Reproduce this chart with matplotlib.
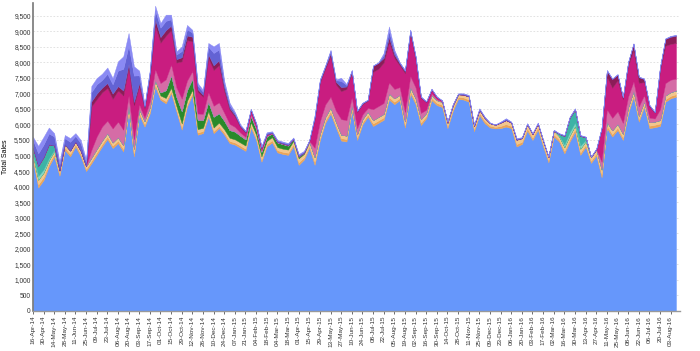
import numpy as np
import pandas as pd
import matplotlib
matplotlib.use('Agg')
import matplotlib.pyplot as plt
from matplotlib.ticker import FuncFormatter, MultipleLocator

# weekly periods, 16-Apr-14 .. 10-Aug-16
weeks = pd.date_range('2014-04-16', periods=122, freq='7D')

blue = [4850, 3970, 4210, 4650, 4970, 4350, 5180, 4970, 5290, 4970,
        4500, 4750, 5020, 5290, 5530, 5240, 5400, 5130, 6420, 4970,
        6310, 5930, 6360, 7220, 6790, 6680, 7010, 6420, 5830, 6580,
        6950, 5670, 5720, 6260, 5720, 5880, 5670, 5400, 5350, 5250,
        5150, 5900, 5500, 4800, 5300, 5420, 5100, 5050, 5020, 5300,
        4700, 4870, 5250, 4700, 5500, 6050, 6350, 5900, 5480, 5450,
        6450, 5500, 6000, 6250, 5950, 6050, 6150, 6800, 6650, 6780,
        5900, 7000, 6650, 5980, 6200, 6780, 6620, 6560, 5880, 6430,
        6820, 6800, 6730, 5780, 6300, 6040, 5900, 5870, 5880, 5930,
        5880, 5290, 5370, 5800, 5500, 5830, 5290, 4780, 5610, 5450,
        5070, 5450, 5770, 5020, 5280, 4760, 5000, 4300, 5880, 5610,
        5820, 5500, 6360, 6890, 6090, 6570, 5880, 5910, 5950, 6730,
        6840, 6890]

orange = [80, 100, 100, 90, 80, 80, 80, 80, 70, 80,
          70, 80, 80, 80, 80, 80, 80, 80, 80, 100,
          80, 80, 80, 80, 60, 70, 70, 70, 80, 70,
          70, 70, 70, 70, 70, 70, 70, 70, 70, 70,
          70, 70, 70, 70, 70, 70, 70, 70, 70, 70,
          80, 70, 70, 100, 80, 80, 80, 80, 80, 80,
          70, 80, 70, 70, 80, 80, 80, 80, 80, 70,
          80, 80, 80, 80, 70, 70, 70, 70, 70, 70,
          70, 70, 70, 70, 70, 70, 60, 50, 70, 80,
          70, 80, 70, 80, 70, 80, 70, 70, 70, 70,
          80, 80, 80, 80, 70, 70, 70, 100, 80, 80,
          80, 80, 80, 80, 80, 70, 80, 80, 80, 80,
          80, 80]

tan = [90, 150, 140, 110, 90, 90, 100, 110, 90, 100,
       90, 100, 110, 110, 110, 100, 110, 120, 120, 150,
       100, 100, 110, 120, 80, 100, 100, 100, 120, 110,
       100, 110, 100, 100, 110, 110, 100, 100, 100, 100,
       100, 100, 100, 100, 100, 100, 100, 100, 100, 100,
       130, 110, 110, 150, 120, 110, 110, 110, 110, 110,
       100, 100, 100, 90, 110, 110, 110, 120, 110, 100,
       120, 120, 110, 110, 100, 100, 90, 90, 90, 90,
       80, 90, 100, 100, 100, 100, 80, 70, 110, 130,
       110, 140, 120, 130, 120, 120, 110, 100, 120, 100,
       120, 120, 110, 120, 110, 120, 130, 150, 120, 120,
       120, 120, 110, 110, 110, 100, 110, 100, 110, 120,
       120, 120]

green = [0, 0, 0, 0, 0, 0, 0, 0, 0, 0,
         0, 0, 0, 0, 0, 0, 0, 0, 0, 0,
         0, 0, 0, 0, 100, 250, 400, 300, 400, 350,
         350, 300, 250, 300, 350, 300, 280, 250, 250, 220,
         200, 200, 180, 150, 150, 120, 150, 150, 130, 60,
         60, 40, 20, 0, 0, 0, 0, 0, 0, 0,
         0, 0, 0, 0, 0, 0, 0, 0, 0, 0,
         0, 0, 0, 0, 0, 0, 0, 0, 0, 0,
         0, 0, 0, 0, 0, 0, 0, 0, 0, 0,
         0, 0, 0, 0, 0, 0, 0, 0, 0, 0,
         0, 0, 0, 0, 0, 0, 0, 0, 0, 0,
         0, 0, 0, 0, 0, 0, 0, 0, 0, 0,
         0, 0]

light_teal = [50, 120, 100, 60, 40, 0, 0, 0, 0, 0,
              0, 0, 0, 0, 0, 0, 0, 0, 0, 0,
              0, 0, 0, 0, 0, 0, 0, 0, 0, 0,
              0, 0, 0, 0, 0, 0, 0, 0, 0, 0,
              0, 0, 0, 0, 0, 0, 0, 0, 0, 0,
              0, 0, 0, 0, 0, 0, 0, 0, 0, 0,
              0, 0, 0, 0, 0, 0, 0, 0, 0, 0,
              0, 0, 0, 0, 0, 0, 0, 0, 0, 0,
              0, 0, 0, 0, 0, 0, 0, 0, 0, 0,
              0, 0, 0, 0, 0, 0, 0, 0, 0, 20,
              80, 100, 100, 100, 40, 0, 0, 0, 0, 0,
              0, 0, 0, 0, 0, 0, 0, 0, 0, 0,
              0, 0]

teal = [180, 330, 400, 450, 150, 0, 0, 0, 0, 0,
        0, 0, 0, 0, 0, 0, 0, 0, 0, 0,
        0, 0, 0, 0, 0, 0, 0, 0, 0, 0,
        0, 0, 0, 0, 0, 0, 0, 0, 0, 0,
        0, 0, 0, 0, 0, 0, 0, 0, 0, 0,
        0, 0, 0, 0, 0, 0, 0, 0, 0, 0,
        0, 0, 0, 0, 0, 0, 0, 0, 0, 0,
        0, 0, 0, 0, 0, 0, 0, 0, 0, 0,
        0, 0, 0, 0, 0, 0, 0, 0, 0, 0,
        0, 0, 0, 0, 0, 0, 0, 0, 0, 60,
        280, 470, 430, 310, 90, 0, 0, 0, 0, 0,
        0, 0, 0, 0, 0, 0, 0, 0, 0, 0,
        0, 0]

pink = [0, 0, 0, 0, 0, 0, 0, 0, 0, 0,
        0, 250, 400, 450, 400, 450, 500, 500, 300, 300,
        150, 100, 200, 350, 300, 350, 350, 300, 400, 300,
        250, 200, 200, 300, 350, 350, 250, 200, 150, 100,
        80, 60, 50, 40, 20, 10, 10, 10, 10, 0,
        0, 0, 20, 300, 400, 400, 350, 350, 500, 500,
        250, 200, 150, 120, 350, 350, 350, 350, 300, 250,
        300, 350, 350, 200, 100, 50, 30, 20, 20, 20,
        0, 0, 0, 0, 0, 0, 0, 0, 0, 0,
        0, 0, 0, 0, 0, 0, 0, 0, 0, 0,
        0, 0, 0, 0, 0, 0, 0, 250, 400, 400,
        400, 350, 350, 300, 300, 200, 150, 100, 350, 400,
        400, 380]

magenta = [0, 0, 0, 0, 0, 0, 0, 0, 0, 0,
           0, 1400, 1200, 1100, 1050, 950, 1000, 1100, 900, 1100,
           600, 300, 800, 1400, 1300, 1400, 1100, 800, 1200, 1300,
           950, 700, 550, 1100, 1150, 1200, 700, 450, 330, 180,
           140, 120, 100, 80, 40, 10, 10, 10, 10, 0,
           0, 0, 10, 900, 1250, 1150, 1300, 850, 900, 1000,
           800, 520, 330, 230, 1200, 1200, 1300, 1300, 1000, 700,
           1250, 1350, 900, 480, 250, 120, 70, 20, 20, 20,
           0, 0, 0, 0, 0, 0, 0, 0, 0, 0,
           0, 0, 0, 0, 0, 0, 0, 0, 0, 0,
           0, 0, 0, 0, 0, 0, 0, 1050, 1050, 970,
           1000, 760, 1000, 1000, 760, 420, 350, 190, 1250, 1200,
           1150, 1150]

maroon = [0, 0, 0, 0, 0, 0, 0, 0, 0, 0,
          0, 160, 180, 150, 160, 170, 140, 160, 120, 100,
          90, 50, 100, 200, 180, 180, 150, 110, 130, 150,
          150, 80, 60, 120, 150, 150, 100, 60, 50, 30,
          20, 20, 10, 10, 0, 0, 0, 0, 0, 0,
          0, 0, 0, 50, 50, 60, 100, 80, 130, 80,
          50, 30, 30, 20, 190, 190, 150, 150, 100, 60,
          60, 100, 70, 30, 10, 10, 0, 0, 0, 0,
          0, 0, 0, 0, 0, 0, 0, 0, 0, 0,
          0, 0, 0, 0, 0, 0, 0, 0, 0, 0,
          0, 0, 0, 0, 0, 0, 0, 30, 200, 280,
          180, 60, 100, 210, 180, 100, 40, 10, 100, 220,
          230, 230]

slate = [250, 400, 400, 350, 280, 200, 200, 280, 180, 240,
         130, 300, 300, 250, 300, 300, 500, 700, 600, 850,
         250, 40, 60, 300, 300, 300, 200, 150, 200, 200,
         130, 120, 100, 250, 400, 350, 140, 100, 60, 30,
         25, 20, 30, 30, 50, 30, 40, 40, 40, 30,
         50, 40, 10, 50, 30, 30, 70, 50, 200, 50,
         20, 10, 10, 10, 10, 10, 100, 200, 100, 30,
         30, 30, 30, 10, 10, 10, 10, 10, 10, 10,
         20, 30, 30, 30, 30, 25, 10, 5, 20, 40,
         20, 30, 20, 20, 20, 20, 20, 10, 20, 10,
         20, 20, 20, 20, 10, 10, 20, 10, 10, 10,
         10, 10, 10, 10, 10, 10, 10, 10, 10, 10,
         20, 20]

periwinkle = [100, 240, 250, 190, 110, 80, 100, 120, 90, 110,
              70, 200, 200, 200, 200, 200, 300, 400, 400, 300,
              150, 30, 50, 150, 150, 200, 150, 100, 150, 140,
              90, 80, 60, 120, 210, 210, 90, 70, 40, 20,
              15, 10, 10, 20, 20, 20, 20, 20, 20, 20,
              30, 20, 10, 50, 20, 20, 40, 30, 100, 30,
              10, 10, 10, 10, 10, 10, 60, 150, 60, 10,
              10, 20, 10, 10, 10, 10, 10, 10, 10, 10,
              10, 10, 20, 20, 20, 15, 10, 5, 10, 20,
              10, 20, 10, 10, 10, 10, 10, 10, 10, 10,
              10, 10, 10, 10, 10, 10, 10, 10, 10, 10,
              10, 10, 10, 10, 10, 10, 10, 10, 10, 10,
              10, 10]

layers = [blue, orange, tan, green, light_teal, teal, pink, magenta,
          maroon, slate, periwinkle]
colors = ['#6697fb', '#eba457', '#f2c68c', '#2a8a2a', '#86d6c6', '#3db3a6',
          '#d56ca6', '#c91d80', '#8c1c58', '#6363d4', '#8a8af4']

x = np.arange(len(weeks))

fig = plt.figure(figsize=(7.0, 3.51), dpi=100)
ax = fig.add_axes([0.047, 0.114, 0.924, 0.877])

ax.stackplot(x, *[np.array(l) for l in layers], colors=colors,
             linewidth=0.3, edgecolor='face')

ax.set_xlim(0, 121.7)
ax.set_ylim(0, 9900)
ax.yaxis.set_major_locator(MultipleLocator(500))
ax.yaxis.set_major_formatter(FuncFormatter(lambda v, p: '{:,.0f}'.format(v)))
ax.grid(axis='y', color='#dddddd', linestyle=(0, (2, 2)), linewidth=0.6)
ax.set_axisbelow(True)

ax.set_xticks(x[::2])
ax.set_xticklabels([d.strftime('%d-%b-%y') for d in weeks[::2]],
                   rotation=90, fontsize=4.6, family='Liberation Sans')
for lbl in ax.get_yticklabels():
    lbl.set_fontsize(4.8)
    lbl.set_family('Liberation Sans')
ax.tick_params(axis='both', length=2, width=0.5, pad=1.5, colors='#333333')
ax.tick_params(axis='y', length=0)

for s in ['top', 'right']:
    ax.spines[s].set_visible(False)
ax.spines['left'].set_color('#777777')
ax.spines['left'].set_linewidth(1.2)
ax.spines['bottom'].set_color('#999999')
ax.spines['bottom'].set_linewidth(1.0)

ax.set_ylabel('Total Sales', fontsize=5, family='Liberation Sans', labelpad=4)

fig.savefig('out.png', dpi=100)
